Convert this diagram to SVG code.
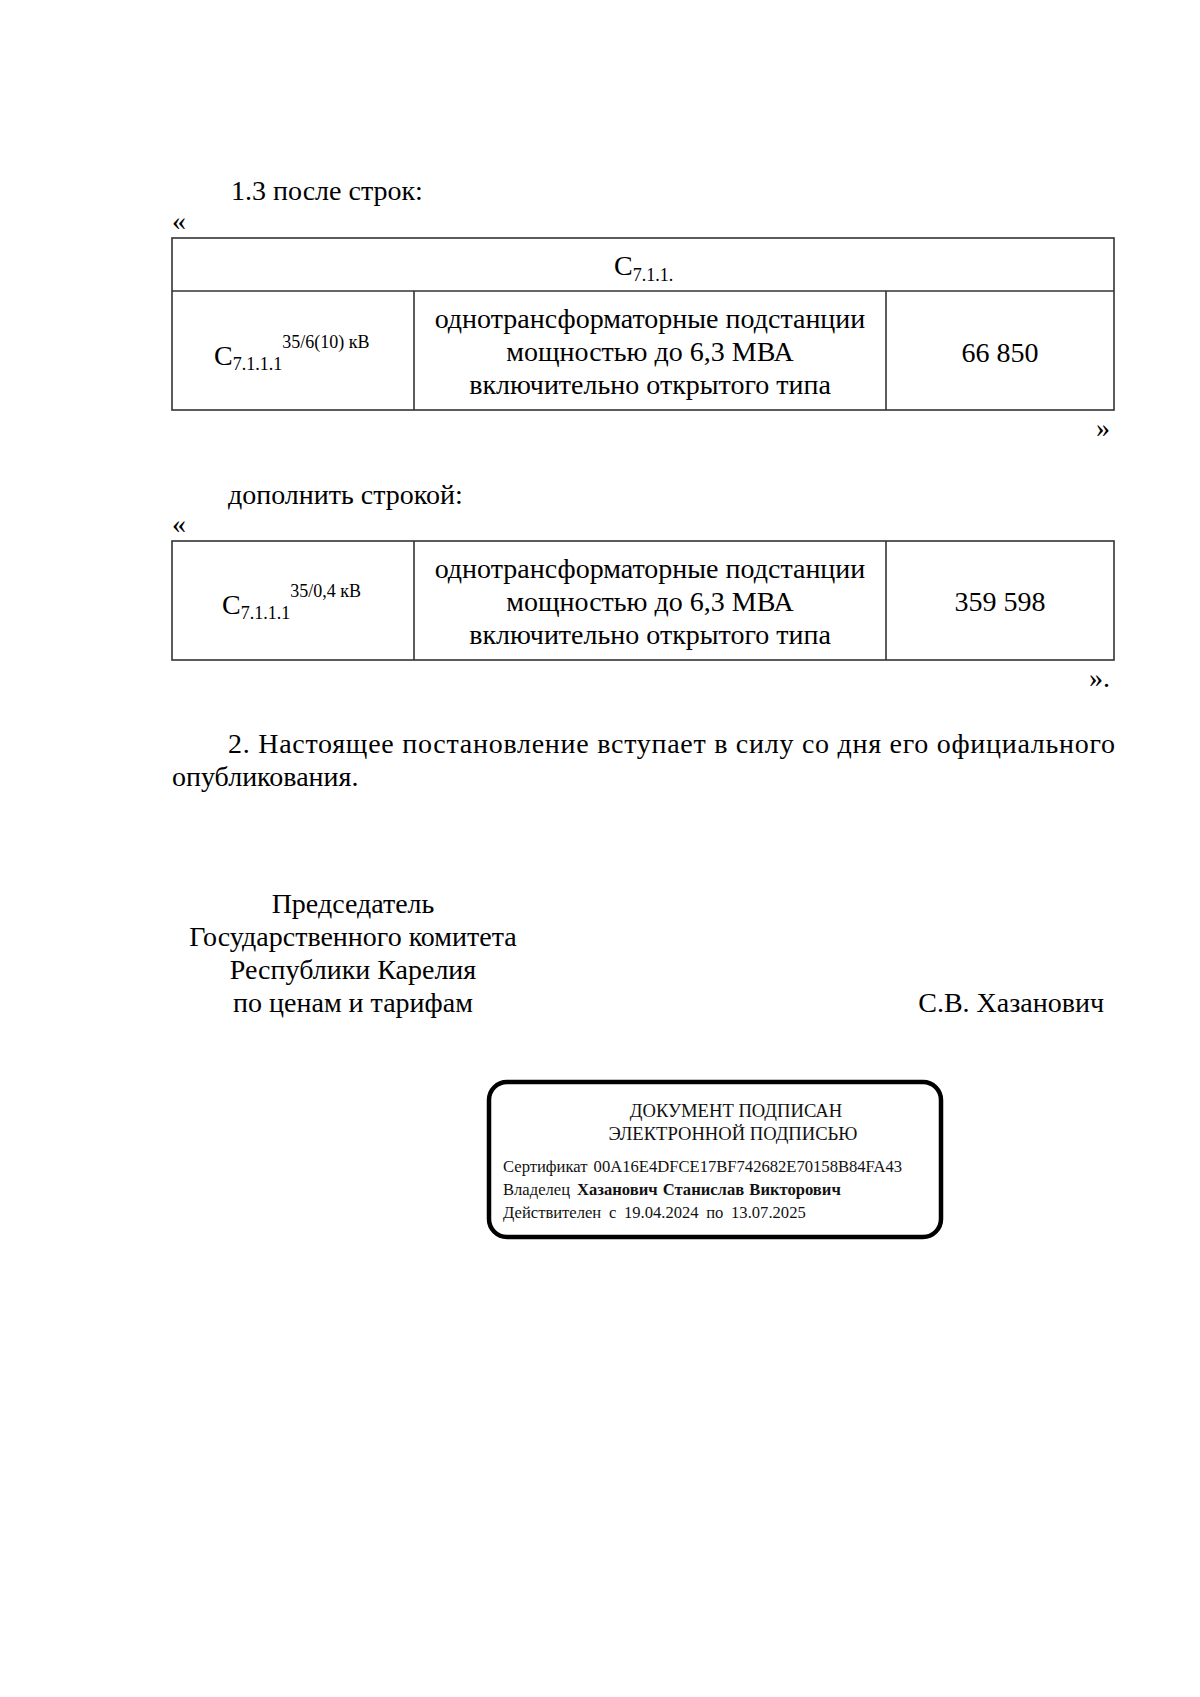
<svg xmlns="http://www.w3.org/2000/svg" width="1200" height="1697" viewBox="0 0 1200 1697">
<style>
text{font-family:"Liberation Serif","Times New Roman",serif;fill:#000;}
.t{font-size:28px;}
.s{font-size:18px;}
.c{text-anchor:middle;}
.e{text-anchor:end;}
.ln{stroke:#333;stroke-width:1.6;fill:none;}
.st{font-size:16.6px;fill:#111;}
.sh{font-size:18.6px;fill:#111;}
</style>
<rect width="1200" height="1697" fill="#fff"/>
<g id="intro">
<text class="t" x="231" y="200">1.3 после строк:</text>
<text class="t" x="172" y="230">«</text>
</g>
<g id="table1">
<rect class="ln" x="172" y="238" width="942" height="172"/>
<line class="ln" x1="172" y1="291" x2="1114" y2="291"/>
<line class="ln" x1="414" y1="291" x2="414" y2="410"/>
<line class="ln" x1="886" y1="291" x2="886" y2="410"/>
<text class="t" x="614" y="275">C<tspan class="s" dy="6">7.1.1.</tspan></text>
<text class="t" x="214" y="365">C<tspan class="s" dy="5">7.1.1.1</tspan><tspan class="s" dy="-22">35/6(10) кВ</tspan></text>
<text class="t c" x="650" y="328">однотрансформаторные подстанции</text>
<text class="t c" x="650" y="361">мощностью до 6,3 МВА</text>
<text class="t c" x="650" y="394">включительно открытого типа</text>
<text class="t c" x="1000" y="362">66 850</text>
</g>
<text class="t e" x="1110" y="437">»</text>
<g id="add">
<text class="t" x="228" y="504">дополнить строкой:</text>
<text class="t" x="172" y="533">«</text>
</g>
<g id="table2">
<rect class="ln" x="172" y="541" width="942" height="119"/>
<line class="ln" x1="414" y1="541" x2="414" y2="660"/>
<line class="ln" x1="886" y1="541" x2="886" y2="660"/>
<text class="t" x="222" y="614">C<tspan class="s" dy="5">7.1.1.1</tspan><tspan class="s" dy="-22">35/0,4 кВ</tspan></text>
<text class="t c" x="650" y="578">однотрансформаторные подстанции</text>
<text class="t c" x="650" y="611">мощностью до 6,3 МВА</text>
<text class="t c" x="650" y="644">включительно открытого типа</text>
<text class="t c" x="1000" y="611">359 598</text>
</g>
<text class="t e" x="1110" y="687">».</text>
<g id="para2">
<text class="t" x="228" y="753" textLength="887" lengthAdjust="spacing">2. Настоящее постановление вступает в силу со дня его официального</text>
<text class="t" x="172" y="786">опубликования.</text>
</g>
<g id="signature">
<text class="t c" x="353" y="913">Председатель</text>
<text class="t c" x="353" y="946">Государственного комитета</text>
<text class="t c" x="353" y="979">Республики Карелия</text>
<text class="t c" x="353" y="1012">по ценам и тарифам</text>
<text class="t e" x="1104" y="1012">С.В. Хазанович</text>
</g>
<g id="stamp">
<rect x="489" y="1082" width="452" height="155" rx="18" ry="18" fill="none" stroke="#000" stroke-width="4.5"/>
<text class="sh c" x="736" y="1117">ДОКУМЕНТ ПОДПИСАН</text>
<text class="sh c" x="733" y="1140">ЭЛЕКТРОННОЙ ПОДПИСЬЮ</text>
<text class="st" x="503" y="1172" word-spacing="2">Сертификат 00A16E4DFCE17BF742682E70158B84FA43</text>
<text class="st" x="503" y="1195">Владелец<tspan x="577" font-weight="bold" word-spacing="1">Хазанович Станислав Викторович</tspan></text>
<text class="st" x="503" y="1218" word-spacing="3.5">Действителен с 19.04.2024 по 13.07.2025</text>
</g>
</svg>
